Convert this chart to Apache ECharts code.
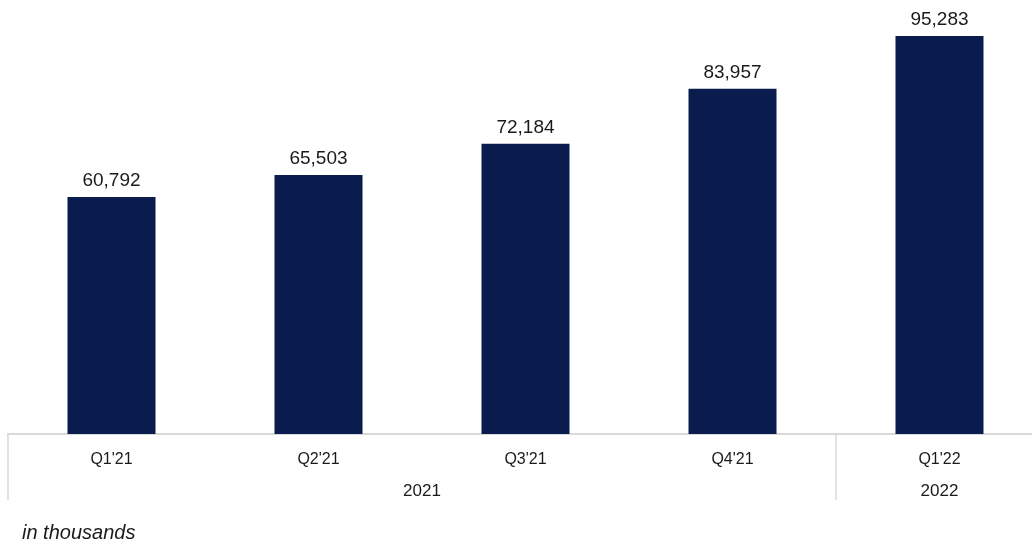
<!DOCTYPE html>
<html><head><meta charset="utf-8">
<script src="https://cdn.jsdelivr.net/npm/echarts@6/dist/echarts.min.js"></script>
<style>html,body{margin:0;padding:0;background:#fff}#c{width:1032px;height:544px}</style>
</head><body><div id="c"></div>
<script>
const categories = ["Q1'21", "Q2'21", "Q3'21", "Q4'21", "Q1'22"];
const values = [60792, 65503, 72184, 83957, 95283];
const yearLabels = ["2021", "2022"];
const yearCenters = [2, 4.5];      // category-position of year label centers
const yearBoundaries = [0, 4];     // category indices whose left boundary gets a divider
const note = "in thousands";

const font = "Liberation Sans, Arial, Helvetica, sans-serif";
const chart = echarts.init(document.getElementById('c'), null, {renderer: 'canvas'});
chart.setOption({
  animation: false,
  title: {text: note, left: 17, top: 518, textStyle: {fontFamily: font, fontSize: 20, fontStyle: 'italic', fontWeight: 'normal', color: '#1a1a1a'}},
  grid: {left: 8, top: 14, width: 1035, height: 420, outerBoundsMode: 'none', containLabel: false},
  xAxis: [
    {type: 'category', data: categories, position: 'bottom',
     axisLine: {show: true, lineStyle: {color: '#d9d9d9', width: 2}},
     axisTick: {show: true, length: 66, lineStyle: {color: '#d9d9d9', width: 1.5},
       interval: function (i) { return yearBoundaries.indexOf(i) >= 0; }},
     axisLabel: {margin: 18, fontFamily: font, fontSize: 16, color: '#1a1a1a'}},
    {type: 'value', min: 0, max: 5, interval: 0.5, position: 'bottom',
     axisLine: {show: false}, axisTick: {show: false}, splitLine: {show: false},
     axisLabel: {margin: 49, fontFamily: font, fontSize: 17, color: '#1a1a1a', showMinLabel: true, showMaxLabel: true,
       formatter: function (v) { const k = yearCenters.indexOf(v); return k >= 0 ? yearLabels[k] : ''; }}}
  ],
  yAxis: {type: 'value', min: 10000, max: 100000, show: false, splitLine: {show: false}},
  series: [{
    type: 'bar', data: values, barWidth: 88, xAxisIndex: 0,
    itemStyle: {color: '#0a1c4e'},
    label: {show: true, position: 'top', distance: 7, fontFamily: font, fontSize: 19, color: '#1a1a1a',
      formatter: function (p) { return p.value.toLocaleString('en-US'); }}
  }]
});
</script></body></html>
